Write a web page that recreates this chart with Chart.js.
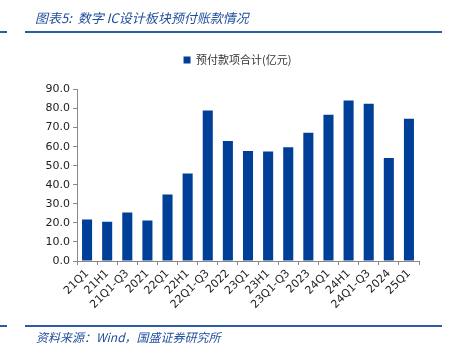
<!DOCTYPE html>
<html>
<head>
<meta charset="utf-8">
<script src="https://cdn.jsdelivr.net/npm/chart.js@4/dist/chart.umd.min.js"></script>
<style>
  html, body { margin: 0; padding: 0; background: #fff; }
  #wrap { position: relative; width: 450px; height: 357px; overflow: hidden; }
  #c { position: absolute; left: 0; top: 0; }
  .title { position: absolute; left: 35px; top: 8px; font: italic 13px "Noto Sans CJK SC", sans-serif; color: #1f4e9c; white-space: nowrap; }
  .hl { position: absolute; height: 2px; background: #2d5ca6; }
  .src { position: absolute; left: 36px; top: 328px; font: italic 12px "Noto Sans CJK SC", sans-serif; color: #1f4e9c; white-space: nowrap; }
</style>
</head>
<body>
<div id="wrap">
  <canvas id="c" width="450" height="357"></canvas>
  <div class="title">图表5:&nbsp; 数字 IC设计板块预付账款情况</div>
  <div class="hl" style="left:0;width:7px;top:31px;"></div>
  <div class="hl" style="left:25px;width:417px;top:31px;"></div>
  <div class="hl" style="left:0;width:7px;top:325px;"></div>
  <div class="hl" style="left:25px;width:417px;top:325px;"></div>
  <div class="src">资料来源：Wind，国盛证券研究所</div>
</div>
<script>
const categories = ["21Q1","21H1","21Q1-Q3","2021","22Q1","22H1","22Q1-Q3","2022","23Q1","23H1","23Q1-Q3","2023","24Q1","24H1","24Q1-Q3","2024","25Q1"];
const prepayments = [21.8, 20.6, 25.5, 21.3, 34.9, 45.9, 79.0, 63.0, 57.7, 57.4, 59.7, 67.3, 76.7, 84.2, 82.5, 54.1, 74.7];
const seriesName = "预付款项合计(亿元)";
const yMin = 0, yMax = 90, yStep = 10;

const shiftLegend = {
  id: 'shiftLegend',
  afterLayout(chart) {
    if (chart.legend) {
      chart.legend.left = 56;
      chart.legend.top -= 14;
    }
  }
};

new Chart(document.getElementById('c'), {
  type: 'bar',
  data: {
    labels: categories,
    datasets: [{
      label: seriesName,
      data: prepayments,
      backgroundColor: '#003f98',
      borderWidth: 0,
      barPercentage: 0.5,
      categoryPercentage: 1.0
    }]
  },
  plugins: [shiftLegend],
  options: {
    responsive: false,
    animation: false,
    devicePixelRatio: 1,
    layout: { padding: { left: 0, right: 31, top: 55, bottom: 0 } },
    plugins: {
      legend: {
        display: true,
        position: 'top',
        labels: {
          boxWidth: 7, boxHeight: 7, padding: 13.5,
          color: '#333', font: { family: '"Noto Sans CJK SC", sans-serif', size: 11 }
        }
      },
      tooltip: { enabled: false }
    },
    scales: {
      x: {
        offset: true,
        grid: { display: true, drawOnChartArea: false, drawTicks: true, tickLength: 4, color: '#888', offset: true },
        border: { display: true, color: '#888', width: 1 },
        ticks: {
          autoSkip: false, minRotation: 45, maxRotation: 45, padding: 2,
          color: '#222', font: { family: '"DejaVu Sans", sans-serif', size: 11 }
        },
        afterFit: s => { s.height = 96; }
      },
      y: {
        min: yMin, max: yMax,
        grid: { display: true, drawOnChartArea: false, drawTicks: true, tickLength: 4, color: '#888' },
        border: { display: true, color: '#888', width: 1 },
        ticks: {
          stepSize: yStep, padding: 3,
          color: '#222', font: { family: '"DejaVu Sans", sans-serif', size: 11 },
          callback: v => Number(v).toFixed(1)
        },
        afterFit: s => { s.width = 77; }
      }
    }
  }
});
</script>
</body>
</html>
